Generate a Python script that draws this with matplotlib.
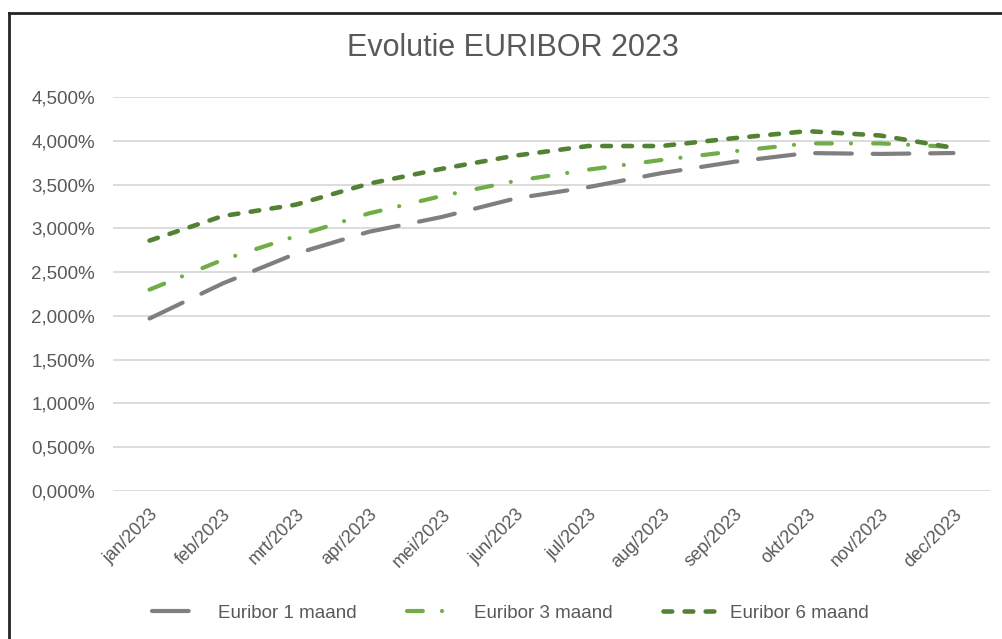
import matplotlib
matplotlib.use("Agg")
import matplotlib.pyplot as plt
from matplotlib.lines import Line2D
from matplotlib.ticker import FuncFormatter
from matplotlib.transforms import ScaledTranslation

# ======================
# DATA (monthly, %)
# ======================
months = ["jan/2023", "feb/2023", "mrt/2023", "apr/2023", "mei/2023", "jun/2023",
          "jul/2023", "aug/2023", "sep/2023", "okt/2023", "nov/2023", "dec/2023"]
euribor_1m = [1.97, 2.37, 2.71, 2.96, 3.13, 3.34, 3.47, 3.63, 3.76, 3.86, 3.85, 3.86]
euribor_3m = [2.30, 2.64, 2.91, 3.17, 3.37, 3.54, 3.67, 3.78, 3.88, 3.97, 3.97, 3.93]
euribor_6m = [2.86, 3.14, 3.27, 3.51, 3.68, 3.83, 3.94, 3.94, 4.03, 4.11, 4.06, 3.92]
y_ticks = [0.0, 0.5, 1.0, 1.5, 2.0, 2.5, 3.0, 3.5, 4.0, 4.5]

text_col = "#595959"
plt.rcParams["font.family"] = ["Liberation Sans", "DejaVu Sans"]

fig = plt.figure(figsize=(10.02, 6.39), dpi=100)
ax = fig.add_axes([113 / 1002, 1 - 491 / 639, 877 / 1002, 394 / 639])

x = range(len(months))
ax.plot(x, euribor_1m, color="#7F7F7F", lw=3, dashes=(8.8, 5.0),
        dash_capstyle="round", label="Euribor 1 maand", zorder=3)
ax.plot(x, euribor_3m, color="#70AD47", lw=3, dashes=(3.8, 4.6, 0.01, 5.3),
        dash_capstyle="round", label="Euribor 3 maand", zorder=3)
ax.plot(x, euribor_6m, color="#548235", lw=3.3, dashes=(1.9, 2.7),
        dash_capstyle="round", label="Euribor 6 maand", zorder=4)

ax.set_xlim(-0.5, len(months) - 0.5)
ax.set_ylim(0, 4.5)
ax.set_yticks(y_ticks)
ax.yaxis.set_major_formatter(FuncFormatter(lambda v, p: f"{v:.3f}%".replace(".", ",")))
ax.grid(axis="y", color="#D9D9D9", lw=1.3)
ax.set_axisbelow(True)
for s in ax.spines.values():
    s.set_visible(False)

ax.set_xticks(list(x))
ax.set_xticklabels(months, rotation=45, ha="right", va="center",
                   rotation_mode="anchor")
ax.tick_params(axis="x", length=0, pad=15, labelsize=13, labelcolor=text_col)
ax.tick_params(axis="y", length=0, pad=13, labelsize=13.5, labelcolor=text_col)
shift = ScaledTranslation(6 / 100, 0, fig.dpi_scale_trans)
for lab in ax.get_xticklabels():
    lab.set_transform(lab.get_transform() + shift)

fig.text(513 / 1002, 1 - 48 / 639, "Evolutie EURIBOR 2023", ha="center", va="center",
         fontsize=22, color=text_col)

leg = ax.legend(loc="center", bbox_to_anchor=(510 / 1002, 1 - 613 / 639),
                bbox_transform=fig.transFigure, ncol=3, frameon=False,
                fontsize=13.5, handlelength=2.9, handletextpad=0.65,
                columnspacing=2.7)
for t in leg.get_texts():
    t.set_color(text_col)

# chart border (top and left edges visible)
fig.add_artist(Line2D([9 / 1002, 1], [1 - 13 / 639, 1 - 13 / 639],
                      transform=fig.transFigure, color="#262626", lw=2))
fig.add_artist(Line2D([9 / 1002, 9 / 1002], [0, 1 - 13 / 639],
                      transform=fig.transFigure, color="#262626", lw=2))

fig.savefig("out.png", dpi=100)
